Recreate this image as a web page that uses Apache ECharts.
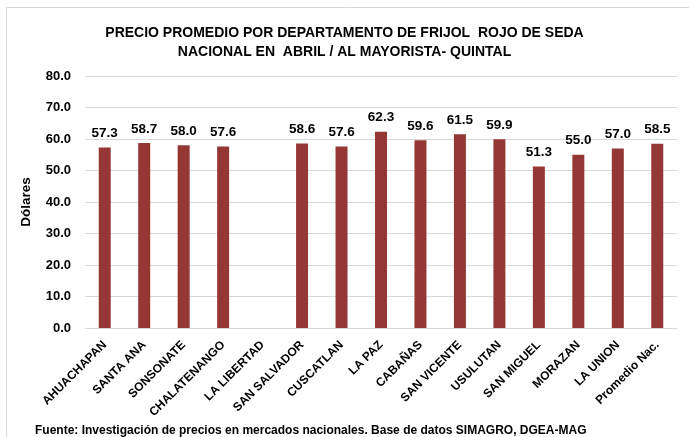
<!DOCTYPE html>
<html>
<head>
<meta charset="utf-8">
<script src="https://cdn.jsdelivr.net/npm/echarts@6/dist/echarts.min.js"></script>
<style>
  html, body { margin: 0; padding: 0; background: #fff; }
  #chart { width: 689px; height: 437px; }
</style>
</head>
<body>
<div id="chart"></div>
<script>
const departamentos = ['AHUACHAPAN', 'SANTA ANA', 'SONSONATE', 'CHALATENANGO', 'LA LIBERTAD',
  'SAN SALVADOR', 'CUSCATLAN', 'LA PAZ', 'CABAÑAS', 'SAN VICENTE', 'USULUTAN',
  'SAN MIGUEL', 'MORAZAN', 'LA UNION', 'Promedio Nac.']
const precios = [57.3, 58.7, 58.0, 57.6, null, 58.6, 57.6, 62.3, 59.6, 61.5, 59.9, 51.3, 55.0, 57.0, 58.5]

const font = 'Liberation Sans'
const chart = echarts.init(document.getElementById('chart'))

chart.setOption({
  backgroundColor: '#fff',
  animation: false,
  textStyle: { fontFamily: font },
  title: {
    text: 'PRECIO PROMEDIO POR DEPARTAMENTO DE FRIJOL  ROJO DE SEDA\nNACIONAL EN  ABRIL / AL MAYORISTA- QUINTAL',
    left: 'center',
    top: 19,
    textStyle: { fontFamily: font, fontSize: 14, fontWeight: 'bold', color: '#000', lineHeight: 19 }
  },
  graphic: [
    {
      type: 'rect',
      shape: { x: 6.5, y: 7.5, width: 700, height: 460 },
      style: { fill: 'none', stroke: '#d9d9d9', lineWidth: 1 },
      silent: true
    },
    {
      type: 'text',
      left: 35,
      top: 425,
      style: {
        text: 'Fuente: Investigación de precios en mercados nacionales. Base de datos SIMAGRO, DGEA-MAG',
        font: 'bold 12px ' + font,
        fill: '#000'
      }
    }
  ],
  grid: { left: 85, right: 12, top: 76, bottom: 109, containLabel: false },
  xAxis: {
    type: 'category',
    data: departamentos,
    axisLine: { lineStyle: { color: '#d9d9d9' } },
    axisTick: { show: false },
    axisLabel: {
      rotate: 45,
      interval: 0,
      color: '#000',
      fontWeight: 'bold',
      fontSize: 12,
      fontFamily: font,
      margin: 15
    }
  },
  yAxis: {
    type: 'value',
    min: 0,
    max: 80,
    interval: 10,
    name: 'Dólares',
    nameLocation: 'middle',
    nameGap: 52,
    nameTextStyle: { color: '#000', fontWeight: 'bold', fontSize: 13.5, fontFamily: font },
    axisLine: { show: false },
    axisTick: { show: false },
    axisLabel: {
      color: '#000',
      fontWeight: 'bold',
      fontSize: 13,
      fontFamily: font,
      margin: 14,
      formatter: v => v.toFixed(1)
    },
    splitLine: { lineStyle: { color: '#d9d9d9' } }
  },
  series: [
    {
      type: 'bar',
      data: precios,
      barWidth: 12,
      itemStyle: { color: '#953735' },
      label: {
        show: true,
        position: 'top',
        distance: 7,
        color: '#000',
        fontWeight: 'bold',
        fontSize: 13.5,
        fontFamily: font,
        formatter: p => p.value == null ? '' : p.value.toFixed(1)
      }
    }
  ]
})
</script>
</body>
</html>
